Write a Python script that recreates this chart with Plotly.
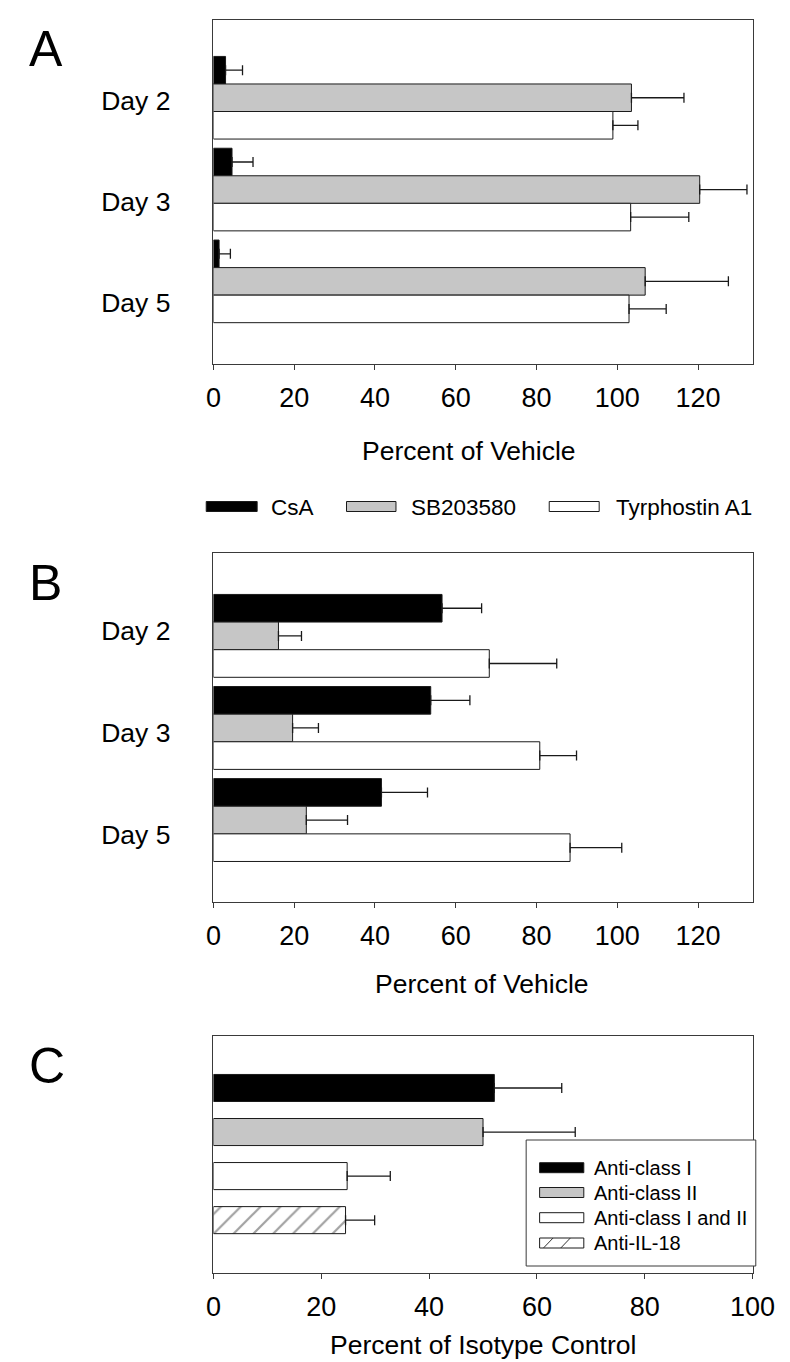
import plotly.graph_objects as go

W, H = 790, 1362

# ---------------- data ----------------
days = ['Day 2', 'Day 3', 'Day 5']
series_names = ['CsA', 'SB203580', 'Tyrphostin A1']

# Panel A (Percent of Vehicle)
a_csa = [3.0, 4.6, 1.4]
a_csa_err = [4.2, 5.2, 2.8]
a_sb = [103.5, 120.4, 106.9]
a_sb_err = [13.0, 11.7, 20.6]
a_tyr = [98.9, 103.3, 102.9]
a_tyr_err = [6.2, 14.4, 9.2]

# Panel B (Percent of Vehicle)
b_csa = [56.6, 53.8, 41.6]
b_csa_err = [9.8, 9.7, 11.4]
b_sb = [16.1, 19.6, 23.0]
b_sb_err = [5.7, 6.4, 10.2]
b_tyr = [68.3, 80.8, 88.3]
b_tyr_err = [16.7, 9.1, 12.8]

# Panel C (Percent of Isotype Control)
c_labels = ['Anti-class I', 'Anti-class II', 'Anti-class I and II', 'Anti-IL-18']
c_vals = [52.1, 50.0, 24.8, 24.5]
c_err = [12.5, 17.1, 8.0, 5.4]

ab_ticks = [0, 20, 40, 60, 80, 100, 120]
c_ticks = [0, 20, 40, 60, 80, 100]

# ---------------- styles ----------------
FONT = 'Liberation Sans, Arial, Helvetica, sans-serif'
BLACK = '#000000'
GRAY = '#c6c6c6'
WHITE = '#ffffff'
EDGE = '#1a1a1a'
FRAME = '#3a3a3a'
series_colors = [BLACK, GRAY, WHITE]


def px(x):
    return x / W


def py(y):
    return 1 - y / H


XDOM = [px(205.5), px(766.7)]
A_DOM = [py(356), py(11.7)]
B_DOM = [py(894), py(545)]
C_DOM = [py(1265), py(1028)]

fig = go.Figure()


def err(arr):
    return dict(type='data', symmetric=False, array=arr, arrayminus=[0] * len(arr),
                color=EDGE, thickness=1.3, width=5)


panels = [
    ('x', 'y', [(a_csa, a_csa_err), (a_sb, a_sb_err), (a_tyr, a_tyr_err)]),
    ('x2', 'y2', [(b_csa, b_csa_err), (b_sb, b_sb_err), (b_tyr, b_tyr_err)]),
]
for xa, ya, data in panels:
    for name, color, (vals, errs) in zip(series_names, series_colors, data):
        fig.add_trace(go.Bar(
            y=days, x=vals, orientation='h', name=name,
            marker=dict(color=color, line=dict(color=EDGE, width=1)),
            error_x=err(errs), xaxis=xa, yaxis=ya, showlegend=False,
        ))

# dummy traces to host label axes (Day labels)
fig.add_trace(go.Scatter(x=[None], y=[None], xaxis='x', yaxis='y4',
                         showlegend=False, hoverinfo='skip'))
fig.add_trace(go.Scatter(x=[None], y=[None], xaxis='x2', yaxis='y5',
                         showlegend=False, hoverinfo='skip'))

# Panel C
fig.add_trace(go.Bar(
    y=c_labels, x=c_vals, orientation='h', width=0.614,
    marker=dict(color=[BLACK, GRAY, WHITE, WHITE],
                line=dict(color=EDGE, width=1),
                pattern=dict(shape=['', '', '', '/'], fgcolor='#000000',
                             size=14, solidity=0.16)),
    error_x=err(c_err), xaxis='x3', yaxis='y3', showlegend=False,
))

tickfont = dict(family=FONT, size=27, color='black')
xcommon = dict(ticks='outside', ticklen=5, tickcolor=FRAME, tickwidth=1,
               showline=True, mirror=True, linecolor=FRAME, linewidth=1,
               showgrid=False, zeroline=False, tickfont=tickfont,
               ticklabelstandoff=5, tickmode='array')
ycommon = dict(type='category', showticklabels=False, ticks='',
               showline=True, mirror=True, linecolor=FRAME, linewidth=1,
               showgrid=False, zeroline=False)
labaxis = dict(type='linear', side='left', tickmode='array', tickvals=[0, 1, 2],
               ticktext=days, showgrid=False, zeroline=False, showline=False,
               ticks='', tickfont=dict(family=FONT, size=26.5, color='black'),
               ticklabelstandoff=42)

fig.update_layout(
    width=W, height=H,
    margin=dict(l=0, r=0, t=0, b=0),
    paper_bgcolor='white', plot_bgcolor='white',
    barmode='group', bargap=0.1, bargroupgap=0,
    showlegend=False,
    font=dict(family=FONT, color='black'),
    xaxis=dict(domain=XDOM, anchor='y', range=[0, 133.5], tickvals=ab_ticks, **xcommon),
    xaxis2=dict(domain=XDOM, anchor='y2', range=[0, 133.5], tickvals=ab_ticks, **xcommon),
    xaxis3=dict(domain=XDOM, anchor='y3', range=[0, 100], tickvals=c_ticks, **xcommon),
    yaxis=dict(domain=A_DOM, anchor='x', categoryorder='array', categoryarray=days,
               range=[2.90, -0.85], **ycommon),
    yaxis2=dict(domain=B_DOM, anchor='x2', categoryorder='array', categoryarray=days,
                range=[2.89, -0.90], **ycommon),
    yaxis3=dict(domain=C_DOM, anchor='x3', categoryorder='array', categoryarray=c_labels,
                range=[4.20, -1.18], **ycommon),
    yaxis4=dict(overlaying='y', anchor='x', range=[2.609, -0.805], **labaxis),
    yaxis5=dict(overlaying='y2', anchor='x2', range=[2.663, -0.767], **labaxis),
)

ann = []
shapes = []


def text(x, y, s, size, xanchor='center'):
    ann.append(dict(x=px(x), y=py(y), xref='paper', yref='paper', text=s,
                    showarrow=False, xanchor=xanchor, yanchor='middle',
                    font=dict(family=FONT, size=size, color='black')))


# panel letters
text(31, 41, 'A', 50)
text(31, 575, 'B', 50)
text(32, 1058, 'C', 50)

# axis titles
text(471, 443, 'Percent of Vehicle', 26.5)
text(485, 976, 'Percent of Vehicle', 26.5)
text(486, 1337, 'Percent of Isotype Control', 26.5)

# legend for A/B
leg_ab = [(198, 251, 263.5), (344, 395.5, 409), (555, 607, 622)]
for (x0, x1, tx), name, color in zip(leg_ab, series_names, series_colors):
    shapes.append(dict(type='rect', xref='paper', yref='paper',
                       x0=px(x0), x1=px(x1), y0=py(503.5), y1=py(493.5),
                       fillcolor=color, line=dict(color=EDGE, width=1)))
    text(tx, 499, name, 22.5, 'left')

# legend for C
shapes.append(dict(type='rect', xref='paper', yref='paper', layer='above',
                   x0=px(531), x1=px(770), y0=py(1258), y1=py(1132),
                   fillcolor='white', line=dict(color=FRAME, width=1)))
c_rows = [1159.7, 1184.5, 1209.7, 1235.0]
c_colors = [BLACK, GRAY, WHITE, WHITE]
for yc, name, color in zip(c_rows, c_labels, c_colors):
    shapes.append(dict(type='rect', xref='paper', yref='paper', layer='above',
                       x0=px(545), x1=px(591), y0=py(yc + 5), y1=py(yc - 5),
                       fillcolor=color, line=dict(color=EDGE, width=1)))
    text(600, yc, name, 20, 'left')
# hatch marks inside the Anti-IL-18 legend swatch
yc = c_rows[3]
for hx in [549, 567]:
    shapes.append(dict(type='line', xref='paper', yref='paper', layer='above',
                       x0=px(hx), x1=px(hx + 10), y0=py(yc + 5), y1=py(yc - 5),
                       line=dict(color='#333333', width=1)))

fig.update_layout(annotations=ann, shapes=shapes)
fig.write_html('out.html')
